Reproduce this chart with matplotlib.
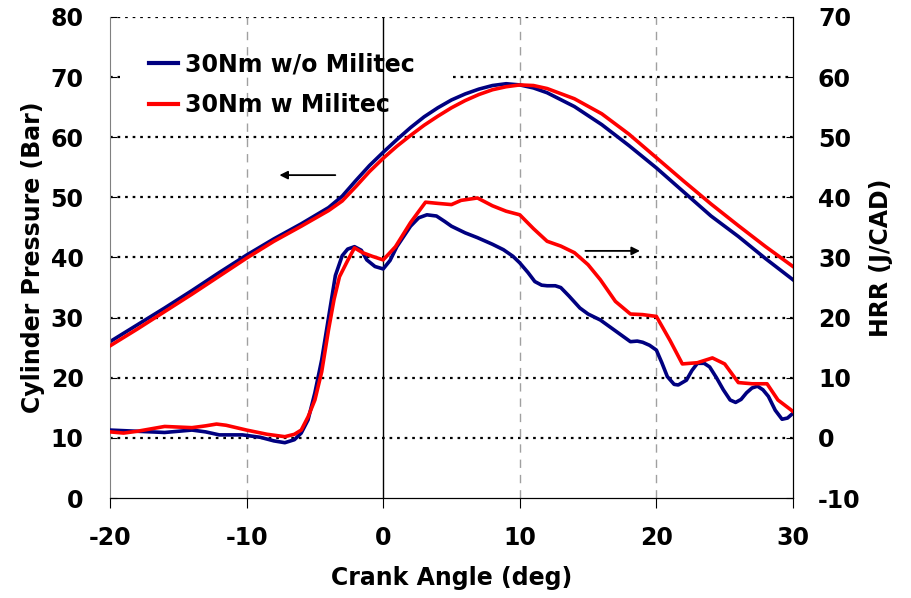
import matplotlib.pyplot as plt

plt.rcParams['font.family'] = ['DejaVu Sans']
plt.rcParams['font.weight'] = 'bold'
plt.rcParams['axes.unicode_minus'] = False

# Cylinder pressure (Bar) vs crank angle
p_angle = [-20, -18, -16, -14, -12, -10, -8, -6, -4, -3, -2, -1, 0, 1, 2, 3, 4, 5, 6, 7,
           8, 9, 10, 11, 12, 14, 16, 18, 20, 22, 24, 26, 28, 30]
p_without = [26.0, 28.8, 31.6, 34.5, 37.5, 40.4, 43.1, 45.6, 48.3, 50.2, 52.8, 55.3, 57.5,
             59.6, 61.6, 63.4, 64.9, 66.2, 67.2, 68.0, 68.6, 68.9, 68.7, 68.2, 67.4, 65.1,
             62.1, 58.6, 54.9, 50.9, 46.9, 43.5, 39.8, 36.3]
p_with = [25.3, 28.1, 31.0, 33.9, 36.9, 39.9, 42.7, 45.2, 47.8, 49.4, 51.8, 54.3, 56.5,
          58.5, 60.3, 62.0, 63.5, 64.9, 66.1, 67.1, 67.9, 68.4, 68.7, 68.6, 68.1, 66.4,
          63.9, 60.5, 56.6, 52.7, 48.9, 45.3, 41.8, 38.5]

# Heat release rate (J/CAD)
hrr_angle_without = [-20, -18, -16, -14, -13, -12, -10.3, -9, -8, -7.2, -6.5, -6, -5.5, -5,
                     -4.5, -4, -3.5, -3, -2.6, -2.1, -1.6, -1.2, -0.6, 0, 0.5, 1, 2, 2.6,
                     3.2, 3.9, 4.5, 5, 6, 6.9, 8, 8.8, 9.5, 10, 10.6, 11.1, 11.6, 12, 12.6,
                     13, 13.6, 14.4, 15, 15.9, 17, 18.1, 18.6, 19, 19.5, 20, 20.4, 20.8,
                     21.3, 21.6, 22.2, 22.6, 23.0, 23.5, 23.9, 24.4, 24.9, 25.4, 25.8,
                     26.2, 26.6, 27.0, 27.4, 27.8, 28.2, 28.7, 29.2, 29.6, 30]
hrr_without = [1.3, 1.1, 0.9, 1.3, 1.0, 0.5, 0.5, 0.1, -0.5, -0.8, -0.3, 0.8, 3.0, 7.5,
               13.0, 20.0, 27.0, 30.3, 31.4, 31.8, 31.2, 29.6, 28.5, 28.1, 29.5, 31.8,
               35.2, 36.6, 37.1, 36.9, 36.0, 35.2, 34.1, 33.3, 32.2, 31.3, 30.2, 29.1,
               27.5, 26.0, 25.4, 25.3, 25.3, 25.0, 23.6, 21.6, 20.6, 19.6, 17.8, 16.0,
               16.1, 15.9, 15.4, 14.6, 12.5, 10.2, 8.9, 8.8, 9.6, 11.2, 12.4, 12.4, 11.8,
               10.0, 8.0, 6.3, 5.9, 6.4, 7.5, 8.3, 8.6, 8.0, 6.9, 4.6, 3.1, 3.3, 4.1]

hrr_angle_with = [-20, -19, -18, -16, -14, -13, -12.2, -11.5, -10, -8.5, -7.2, -6.5, -6,
                  -5.5, -5, -4.5, -4, -3.6, -3.2, -2.6, -2.1, -1.5, -0.8, 0, 0.9, 2, 3.1,
                  4, 5, 5.7, 6.9, 8, 9, 10, 11, 12, 13, 14, 15, 15.9, 17, 18.1, 19, 20,
                  21, 21.9, 23, 24.1, 25, 26, 27, 28.1, 28.9, 30]
hrr_with = [1.0, 0.8, 1.1, 1.9, 1.7, 2.0, 2.3, 2.1, 1.3, 0.6, 0.2, 0.6, 1.3, 3.5, 6.3,
            11.0, 18.0, 23.0, 26.8, 29.5, 31.6, 30.8, 30.2, 29.6, 31.8, 35.8, 39.2, 39.0,
            38.8, 39.5, 39.9, 38.6, 37.7, 37.1, 34.8, 32.7, 31.9, 30.8, 28.8, 26.3, 22.7,
            20.6, 20.5, 20.2, 16.2, 12.3, 12.5, 13.3, 12.3, 9.2, 9.0, 9.0, 6.3, 4.4]

label_without = '30Nm w/o Militec'
label_with = '30Nm w Militec'
navy = '#000080'
red = '#FF0000'
fs = 17

fig = plt.figure(figsize=(9.12, 5.98), dpi=100)
ax = fig.add_axes([0.1206, 0.1672, 0.7489, 0.8044])
ax2 = ax.twinx()

# grid: dotted horizontals, dashed grey verticals, solid line at 0
dots = (0, (1.2, 2.2))
for yv in range(10, 90, 10):
    if yv == 70:
        # this one is hidden behind the legend in the original
        ax.hlines(yv, -20, -19.3, color='black', linestyle=dots, lw=1.6, zorder=0)
        ax.hlines(yv, 5.1, 30, color='black', linestyle=dots, lw=1.6, zorder=0)
    else:
        ax.axhline(yv, color='black', linestyle=dots, lw=1.6, zorder=0)
for xv in [-10, 10, 20]:
    ax.axvline(xv, color='#a0a0a0', linestyle=(0, (6, 5)), lw=1.0, zorder=0)
ax.axvline(0, color='black', lw=1.0, zorder=0)

l1, = ax.plot(p_angle, p_without, color=navy, lw=2.6, label=label_without, zorder=2)
l2, = ax.plot(p_angle, p_with, color=red, lw=2.6, label=label_with, zorder=3)
ax2.plot(hrr_angle_without, hrr_without, color=navy, lw=2.6, zorder=2)
ax2.plot(hrr_angle_with, hrr_with, color=red, lw=2.6, zorder=3)

ax.set_xlim(-20, 30)
ax.set_ylim(0, 80)
ax2.set_ylim(-10, 70)
ax.set_xticks(range(-20, 40, 10))
ax.set_yticks(range(0, 90, 10))
ax2.set_yticks(range(-10, 80, 10))

ax.tick_params(axis='x', direction='out', length=7, pad=13, labelsize=fs)
ax.tick_params(axis='y', direction='in', length=5, pad=19, labelsize=fs)
ax2.tick_params(axis='y', direction='in', length=5, pad=18, labelsize=fs)

for a in (ax, ax2):
    a.spines['top'].set_visible(False)
ax.spines['left'].set_color('#808080')
ax2.spines['left'].set_visible(False)

ax.set_xlabel('Crank Angle (deg)', fontsize=fs, fontweight='bold', labelpad=12)
ax.set_ylabel('Cylinder Pressure (Bar)', fontsize=fs, fontweight='bold', labelpad=4)
ax2.set_ylabel('HRR (J/CAD)', fontsize=fs, fontweight='bold', labelpad=6)

# direction arrows
ax.annotate('', xy=(-7.8, 53.7), xytext=(-3.3, 53.7),
            arrowprops=dict(arrowstyle='-|>', color='black', lw=1.3, mutation_scale=12))
ax.annotate('', xy=(19.0, 41.1), xytext=(14.6, 41.1),
            arrowprops=dict(arrowstyle='-|>', color='black', lw=1.3, mutation_scale=12))

leg = ax2.legend([l1, l2], [label_without, label_with], loc='upper left',
                 bbox_to_anchor=(0.03, 0.965), frameon=False, fontsize=fs,
                 handlelength=1.2, handletextpad=0.3, labelspacing=0.7, borderpad=0.3)
for t in leg.get_texts():
    t.set_fontweight('bold')
for h in leg.legend_handles:
    h.set_linewidth(3)

fig.savefig('out.png', dpi=100)
